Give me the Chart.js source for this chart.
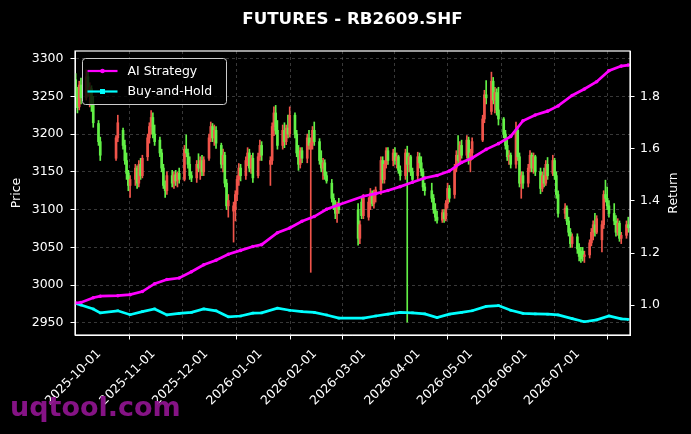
<!DOCTYPE html>
<html>
<head>
<meta charset="utf-8">
<title>FUTURES - RB2609.SHF</title>
<script src="https://cdn.jsdelivr.net/npm/chart.js@4.4.1/dist/chart.umd.min.js"></script>
<style>
    html, body { margin: 0; padding: 0; background: #000; }
    canvas { display: block; }
</style>
</head>
<body>
<canvas id="futuresChart" width="691" height="434"></canvas>
<script>
const TITLE = 'FUTURES - RB2609.SHF';
const WATERMARK = 'uqtool.com';

// trading calendar (weekdays minus exchange holidays)
const firstDay = '2025-09-16';
const lastDay = '2026-07-28';
const holidays = [
    '2025-10-01', '2025-10-02', '2025-10-03', '2025-10-06', '2025-10-07', '2025-10-08',
    '2026-01-01', '2026-01-02',
    '2026-02-16', '2026-02-17', '2026-02-18', '2026-02-19', '2026-02-20', '2026-02-23',
    '2026-04-06', '2026-05-01', '2026-05-04', '2026-05-05', '2026-06-19'
];

// daily OHLC, one line per month (Sep .. Jul)
const openPrices = [
    3272, 3258, 3236, 3265, 3248, 3276, 3255, 3260, 3238, 3214, 3190,
    3168, 3195, 3205, 3185, 3165, 3148, 3132, 3140, 3155, 3135, 3160, 3145, 3170, 3195, 3210, 3222, 3200,
    3192, 3175, 3155, 3132, 3125, 3145, 3135, 3146, 3138, 3148, 3140, 3180, 3175, 3160, 3145, 3142, 3160, 3155, 3165, 3150,
    3168, 3195, 3210, 3195, 3205, 3185, 3160, 3172, 3135, 3105, 3098, 3100, 3120, 3140, 3155, 3145, 3165, 3175, 3155, 3168, 3145, 3170, 3185,
    3160, 3165, 3210, 3228, 3205, 3185, 3205, 3190, 3208, 3200, 3225, 3200, 3175, 3160, 3178, 3168, 3195, 3180, 3188, 3205,
    3190, 3165, 3155, 3162, 3145, 3135, 3115, 3105, 3095, 3105, 3100, 3062, 3110, 3092,
    3090, 3110, 3122, 3108, 3120, 3126, 3165, 3140, 3160, 3178, 3165, 3175, 3165, 3170, 3152, 3145, 3175, 3160, 3170, 3150, 3145, 3170,
    3162, 3150, 3130, 3125, 3115, 3100, 3090, 3086, 3096, 3088, 3108, 3128, 3120, 3155, 3172, 3165, 3185, 3172, 3192, 3165, 3175,
    3192, 3220, 3252, 3230, 3270, 3245, 3255, 3232, 3220, 3200, 3185, 3170, 3172, 3160, 3205, 3170, 3135, 3145,
    3135, 3155, 3172, 3155, 3170, 3150, 3128, 3145, 3135, 3160, 3148, 3165, 3145, 3120, 3095, 3102, 3085, 3070, 3055, 3064, 3048,
    3045, 3045, 3038, 3040, 3056, 3070, 3080, 3070, 3060, 3080, 3120, 3115, 3105, 3095, 3085, 3070, 3082, 3062, 3066, 3080
];
const highPrices = [
    3280, 3262, 3270, 3274, 3285, 3282, 3268, 3264, 3250, 3218, 3196,
    3198, 3225, 3208, 3192, 3175, 3152, 3145, 3160, 3158, 3165, 3168, 3172, 3200, 3215, 3231, 3228, 3212,
    3196, 3180, 3160, 3138, 3150, 3152, 3150, 3152, 3150, 3155, 3185, 3199, 3180, 3170, 3150, 3165, 3174, 3170, 3172, 3170,
    3200, 3216, 3214, 3212, 3210, 3188, 3180, 3176, 3140, 3120, 3110, 3125, 3145, 3161, 3160, 3170, 3182, 3180, 3172, 3175, 3175, 3192, 3190,
    3170, 3215, 3236, 3238, 3218, 3212, 3215, 3212, 3225, 3236, 3228, 3205, 3185, 3182, 3182, 3200, 3205, 3195, 3210, 3216,
    3194, 3178, 3168, 3166, 3150, 3140, 3121, 3112, 3110, 3115, 3108, 3085, 3116, 3120,
    3116, 3128, 3125, 3126, 3130, 3170, 3170, 3165, 3182, 3182, 3180, 3182, 3175, 3172, 3158, 3180, 3184, 3175, 3172, 3155, 3176, 3175,
    3170, 3154, 3135, 3135, 3120, 3108, 3098, 3100, 3100, 3112, 3135, 3132, 3160, 3178, 3198, 3190, 3192, 3198, 3196, 3180, 3195,
    3225, 3258, 3271, 3282, 3275, 3262, 3260, 3262, 3222, 3205, 3192, 3178, 3175, 3216, 3210, 3175, 3150, 3150,
    3160, 3178, 3175, 3175, 3172, 3155, 3150, 3155, 3165, 3169, 3172, 3168, 3150, 3125, 3108, 3105, 3090, 3075, 3068, 3068, 3055,
    3050, 3050, 3045, 3060, 3075, 3085, 3095, 3092, 3085, 3125, 3139, 3130, 3112, 3108, 3092, 3088, 3085, 3070, 3085, 3090
];
const lowPrices = [
    3250, 3228, 3232, 3240, 3245, 3250, 3236, 3230, 3209, 3185, 3165,
    3165, 3190, 3180, 3160, 3140, 3125, 3116, 3132, 3128, 3130, 3140, 3142, 3165, 3188, 3200, 3195, 3185,
    3170, 3150, 3128, 3116, 3120, 3130, 3128, 3132, 3130, 3135, 3138, 3170, 3155, 3140, 3137, 3136, 3150, 3140, 3145, 3145,
    3165, 3190, 3190, 3185, 3181, 3155, 3150, 3130, 3100, 3090, 3057, 3085, 3112, 3132, 3138, 3140, 3158, 3150, 3148, 3136, 3142, 3165, 3165,
    3132, 3160, 3198, 3200, 3180, 3180, 3182, 3186, 3195, 3196, 3195, 3170, 3152, 3155, 3162, 3162, 3180, 3017, 3180, 3185,
    3160, 3150, 3140, 3140, 3135, 3110, 3100, 3088, 3083, 3095, 3053, 3055, 3088, 3088,
    3086, 3100, 3105, 3102, 3110, 3120, 3135, 3135, 3155, 3160, 3158, 3160, 3155, 3148, 3139, 3140, 2951, 3150, 3145, 3135, 3140, 3155,
    3145, 3125, 3119, 3110, 3095, 3085, 3082, 3083, 3083, 3085, 3102, 3110, 3115, 3150, 3160, 3160, 3168, 3168, 3160, 3150, 3170,
    3190, 3215, 3240, 3226, 3240, 3228, 3225, 3212, 3195, 3180, 3165, 3160, 3155, 3155, 3165, 3130, 3115, 3128,
    3130, 3150, 3150, 3148, 3145, 3121, 3124, 3130, 3132, 3140, 3145, 3140, 3115, 3090, 3088, 3080, 3065, 3050, 3050, 3042, 3032,
    3030, 3032, 3030, 3036, 3052, 3060, 3065, 3068, 3044, 3075, 3110, 3100, 3090, 3080, 3065, 3066, 3058, 3055, 3062, 3070
];
const closePrices = [
    3258, 3235, 3265, 3248, 3276, 3255, 3262, 3238, 3215, 3190, 3172,
    3195, 3215, 3185, 3165, 3148, 3132, 3140, 3155, 3135, 3160, 3145, 3168, 3195, 3210, 3222, 3200, 3190,
    3175, 3155, 3132, 3125, 3145, 3135, 3146, 3138, 3148, 3140, 3180, 3175, 3160, 3145, 3142, 3160, 3155, 3165, 3150, 3166,
    3195, 3210, 3195, 3205, 3188, 3160, 3172, 3135, 3105, 3112, 3105, 3120, 3140, 3155, 3145, 3165, 3175, 3155, 3168, 3142, 3170, 3185, 3172,
    3165, 3210, 3228, 3205, 3185, 3205, 3190, 3208, 3200, 3225, 3200, 3175, 3160, 3178, 3168, 3195, 3185, 3188, 3205, 3190,
    3165, 3155, 3162, 3145, 3138, 3115, 3105, 3095, 3105, 3100, 3062, 3080, 3092, 3115,
    3110, 3122, 3108, 3120, 3126, 3165, 3140, 3160, 3178, 3165, 3175, 3165, 3170, 3152, 3145, 3175, 3160, 3170, 3150, 3140, 3170, 3162,
    3150, 3130, 3125, 3115, 3100, 3090, 3086, 3096, 3088, 3108, 3128, 3115, 3155, 3172, 3165, 3185, 3172, 3192, 3165, 3175, 3190,
    3220, 3252, 3248, 3270, 3245, 3255, 3232, 3220, 3200, 3185, 3170, 3172, 3160, 3205, 3170, 3135, 3145, 3135,
    3155, 3172, 3155, 3170, 3150, 3128, 3145, 3135, 3160, 3145, 3165, 3145, 3120, 3095, 3102, 3085, 3070, 3055, 3064, 3048, 3038,
    3035, 3038, 3040, 3056, 3070, 3080, 3070, 3088, 3080, 3120, 3115, 3105, 3095, 3085, 3070, 3082, 3062, 3066, 3080, 3076
];

// cumulative return curves (right axis)
const returnDates = [
    '2025-09-16', '2025-09-19', '2025-09-26', '2025-09-30',
    '2025-10-10', '2025-10-17', '2025-10-24', '2025-10-31',
    '2025-11-07', '2025-11-14', '2025-11-21', '2025-11-28',
    '2025-12-05', '2025-12-12', '2025-12-19', '2025-12-26', '2025-12-31',
    '2026-01-09', '2026-01-16', '2026-01-23', '2026-01-30',
    '2026-02-06', '2026-02-13', '2026-02-27',
    '2026-03-06', '2026-03-13', '2026-03-20', '2026-03-27',
    '2026-04-03', '2026-04-10', '2026-04-17', '2026-04-24', '2026-04-30',
    '2026-05-08', '2026-05-15', '2026-05-22', '2026-05-29',
    '2026-06-05', '2026-06-12', '2026-06-18', '2026-06-26',
    '2026-07-03', '2026-07-10', '2026-07-17', '2026-07-24', '2026-07-28'
];
const aiReturn = [
    1.008, 1.010, 1.028, 1.034,
    1.036, 1.040, 1.052, 1.082,
    1.098, 1.104, 1.128, 1.155,
    1.172, 1.195, 1.210, 1.225, 1.232,
    1.278, 1.296, 1.322, 1.340,
    1.368, 1.385, 1.418,
    1.428, 1.440, 1.455, 1.472,
    1.488, 1.498, 1.515, 1.548, 1.565,
    1.598, 1.620, 1.648, 1.708,
    1.730, 1.745, 1.765, 1.805,
    1.830, 1.858, 1.900, 1.918, 1.922
];
const holdReturn = [
    1.006, 1.000, 0.985, 0.970,
    0.978, 0.963, 0.975, 0.985,
    0.962, 0.968, 0.972, 0.985,
    0.978, 0.955, 0.958, 0.969, 0.970,
    0.988, 0.980, 0.975, 0.972,
    0.962, 0.950, 0.950,
    0.958, 0.965, 0.972, 0.970,
    0.966, 0.952, 0.965, 0.972, 0.978,
    0.995, 0.998, 0.980, 0.968,
    0.966, 0.965, 0.962, 0.948,
    0.936, 0.943, 0.958, 0.947, 0.945
];

// axis ticks
const monthTicks = ['2025-10-01', '2025-11-01', '2025-12-01', '2026-01-01', '2026-02-01',
    '2026-03-01', '2026-04-01', '2026-05-01', '2026-06-01', '2026-07-01'];
const priceTicks = [2950, 3000, 3050, 3100, 3150, 3200, 3250, 3300];
const returnTicks = [1.0, 1.2, 1.4, 1.6, 1.8];

const UP_COLOR = 'rgb(240, 84, 74)';
const DOWN_COLOR = 'rgb(98, 240, 70)';
const FONT = '"DejaVu Sans", sans-serif';

const DAY_MS = 86400000;
const EPOCH = Date.UTC(2025, 9, 1);

function toDay(str) {
    const [y, m, d] = str.split('-').map(Number);
    return (Date.UTC(y, m - 1, d) - EPOCH) / DAY_MS;
}

function dayToLabel(day) {
    return new Date(EPOCH + Math.round(day) * DAY_MS).toISOString().slice(0, 10);
}

function tradingDays(from, to, skip) {
    const out = [];
    const skipSet = new Set(skip);
    for (let d = toDay(from); d <= toDay(to); d++) {
        const label = dayToLabel(d);
        const wd = new Date(EPOCH + d * DAY_MS).getUTCDay();
        if (wd !== 0 && wd !== 6 && !skipSet.has(label)) out.push(d);
    }
    return out;
}

const candleDays = tradingDays(firstDay, lastDay, holidays);
const n = Math.min(candleDays.length, closePrices.length);
if (candleDays.length !== closePrices.length) {
    console.warn('calendar / price length mismatch', candleDays.length, closePrices.length);
}

const wickData = [];
const bodyData = [];
const candleColors = [];
for (let i = 0; i < n; i++) {
    wickData.push({ x: candleDays[i], y: [lowPrices[i], highPrices[i]] });
    bodyData.push({ x: candleDays[i], y: [openPrices[i], closePrices[i]] });
    candleColors.push(closePrices[i] >= openPrices[i] ? UP_COLOR : DOWN_COLOR);
}

const aiData = returnDates.map((d, i) => ({ x: toDay(d), y: aiReturn[i] }));
const holdData = returnDates.map((d, i) => ({ x: toDay(d), y: holdReturn[i] }));

/**
 * Black background, axes frame, title, right axis label, legend box and watermark.
 */
const decorPlugin = {
    id: 'decor',
    beforeDraw(chart) {
        const { ctx, width, height } = chart;
        ctx.save();
        ctx.fillStyle = '#000';
        ctx.fillRect(0, 0, width, height);
        ctx.restore();
    },
    afterDraw(chart) {
        const { ctx, chartArea: a } = chart;
        ctx.save();

        // frame
        ctx.strokeStyle = '#fff';
        ctx.lineWidth = 1.2;
        ctx.strokeRect(a.left, a.top, a.right - a.left, a.bottom - a.top);

        // title
        ctx.fillStyle = '#fff';
        ctx.font = 'bold 16.7px ' + FONT;
        ctx.textAlign = 'center';
        ctx.textBaseline = 'alphabetic';
        ctx.fillText(TITLE, (a.left + a.right) / 2, 24);

        // right axis label, reads bottom to top like the left one
        ctx.save();
        ctx.translate(673.5, (a.top + a.bottom) / 2);
        ctx.rotate(-Math.PI / 2);
        ctx.font = '12.5px ' + FONT;
        ctx.textAlign = 'center';
        ctx.textBaseline = 'middle';
        ctx.fillText('Return', 0, 0);
        ctx.restore();

        // legend box
        const bx = a.left + 7.5, by = a.top + 7.5, bw = 144, bh = 46;
        ctx.beginPath();
        ctx.roundRect(bx, by, bw, bh, 3);
        ctx.fillStyle = 'rgba(0,0,0,0.8)';
        ctx.fill();
        ctx.strokeStyle = '#cccccc';
        ctx.lineWidth = 1;
        ctx.stroke();

        const entries = [
            { text: 'AI Strategy', color: '#ff00ff', marker: 'circle' },
            { text: 'Buy-and-Hold', color: '#00ffff', marker: 'rect' }
        ];
        entries.forEach((e, i) => {
            const y = by + 12.5 + i * 20.5;
            ctx.strokeStyle = e.color;
            ctx.lineWidth = 2.2;
            ctx.beginPath();
            ctx.moveTo(bx + 5, y);
            ctx.lineTo(bx + 35, y);
            ctx.stroke();
            ctx.fillStyle = e.color;
            if (e.marker === 'circle') {
                ctx.beginPath();
                ctx.arc(bx + 20, y, 2.3, 0, Math.PI * 2);
                ctx.fill();
            } else {
                ctx.fillRect(bx + 17.5, y - 2.5, 5, 5);
            }
            ctx.fillStyle = '#fff';
            ctx.font = '12.5px ' + FONT;
            ctx.textAlign = 'left';
            ctx.textBaseline = 'middle';
            ctx.fillText(e.text, bx + 45, y + 0.5);
        });

        // watermark
        ctx.fillStyle = 'rgba(140, 20, 140, 0.95)';
        ctx.font = 'bold 27px ' + FONT;
        ctx.textAlign = 'left';
        ctx.textBaseline = 'alphabetic';
        ctx.fillText(WATERMARK, 10, 416);

        ctx.restore();
    }
};

const gridColor = 'rgba(130,130,130,0.55)';
const tickFont = { family: FONT, size: 12.5 };

new Chart(document.getElementById('futuresChart'), {
    type: 'bar',
    data: {
        datasets: [
            {
                type: 'line', label: 'AI Strategy', data: aiData, yAxisID: 'y2', order: 0,
                borderColor: '#ff00ff', backgroundColor: '#ff00ff', borderWidth: 2.7,
                pointRadius: 1.8, pointStyle: 'circle', pointBorderWidth: 0, tension: 0
            },
            {
                type: 'line', label: 'Buy-and-Hold', data: holdData, yAxisID: 'y2', order: 0,
                borderColor: '#00ffff', backgroundColor: '#00ffff', borderWidth: 2.7,
                pointRadius: 1.8, pointStyle: 'rect', pointBorderWidth: 0, tension: 0
            },
            {
                label: 'body', data: bodyData, yAxisID: 'y', order: 1, grouped: false,
                backgroundColor: candleColors, barThickness: 2, minBarLength: 1, borderWidth: 0
            },
            {
                label: 'wick', data: wickData, yAxisID: 'y', order: 2, grouped: false,
                backgroundColor: candleColors, barThickness: 1, borderWidth: 0
            }
        ]
    },
    options: {
        responsive: false,
        animation: false,
        devicePixelRatio: 1,
        layout: { padding: { top: 51, left: 0, right: 0, bottom: 0 } },
        plugins: { legend: { display: false }, tooltip: { enabled: false } },
        scales: {
            x: {
                type: 'linear',
                offset: false,
                min: -15.4,
                max: 301,
                afterBuildTicks: (scale) => { scale.ticks = monthTicks.map(d => ({ value: toDay(d) })); },
                afterFit: (scale) => { scale.height = 99; },
                ticks: {
                    color: '#fff', font: tickFont, autoSkip: false,
                    minRotation: 45, maxRotation: 45, padding: 7, labelOffset: -3,
                    callback: (v) => dayToLabel(v)
                },
                grid: {
                    color: gridColor, lineWidth: 0.8, drawTicks: true,
                    tickColor: '#fff', tickLength: 4.5, tickWidth: 1, tickBorderDash: []
                },
                border: { display: true, color: '#fff', width: 1, dash: [3, 3] }
            },
            y: {
                position: 'left',
                min: 2934,
                max: 3310,
                afterBuildTicks: (scale) => { scale.ticks = priceTicks.map(v => ({ value: v })); },
                afterFit: (scale) => { scale.width = 75; },
                ticks: { color: '#fff', font: tickFont, padding: 7, callback: (v) => String(v) },
                grid: {
                    color: gridColor, lineWidth: 0.8,
                    tickColor: '#fff', tickLength: 4.5, tickWidth: 1, tickBorderDash: []
                },
                border: { display: true, color: '#fff', width: 1, dash: [3, 3] },
                title: { display: true, text: 'Price', color: '#fff', font: tickFont, padding: { top: 9.5, bottom: 0 } }
            },
            y2: {
                position: 'right',
                min: 0.885,
                max: 1.976,
                afterBuildTicks: (scale) => { scale.ticks = returnTicks.map(v => ({ value: v })); },
                afterFit: (scale) => { scale.width = 61; },
                ticks: { color: '#fff', font: tickFont, padding: 5.5, callback: (v) => v.toFixed(1) },
                grid: {
                    drawOnChartArea: false,
                    tickColor: '#fff', tickLength: 4.5, tickWidth: 1
                },
                border: { display: true, color: '#fff', width: 1 }
            }
        }
    },
    plugins: [decorPlugin]
});
</script>
</body>
</html>
